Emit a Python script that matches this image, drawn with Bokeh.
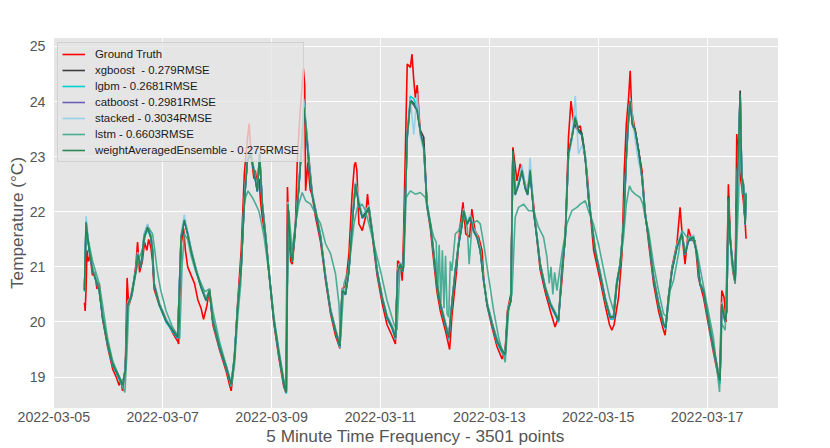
import pandas as pd
from bokeh.plotting import figure
from bokeh.models import Range1d, FixedTicker, DatetimeTickFormatter, Legend
from bokeh.embed import file_html
from bokeh.resources import INLINE

# ---------------- data (hours after 2022-03-05 00:00, temperature in degC) ----------------
base_day = "2022-03-05"
x_tick_labels = ["2022-03-05", "2022-03-07", "2022-03-09", "2022-03-11",
                 "2022-03-13", "2022-03-15", "2022-03-17"]
y_ticks = [19, 20, 21, 22, 23, 24, 25]

gt_hours = [
    13.5, 13.8, 14.2, 14.6, 15.2, 16.0, 17.0, 18.0, 19.0, 20.0,
    21.5, 23.7, 25.9, 27.5, 28.8, 29.5, 30.3, 31.5, 32.3, 33.0,
    34.5, 36.2, 36.9, 37.8, 39.0, 40.0, 41.0, 41.8, 42.8, 43.5,
    44.2, 46.5, 48.5, 50.0, 52.4, 54.6, 55.0, 56.1, 57.2, 58.0,
    59.0, 60.5, 62.0, 63.5, 64.9, 66.0, 67.5, 68.6, 69.5, 70.1,
    73.0, 76.0, 77.5, 78.2, 79.6, 81.1, 82.6, 84.0, 85.3, 86.1,
    86.8, 88.2, 88.8, 89.7, 90.5, 91.1, 91.9, 93.4, 94.8, 97.0,
    99.2, 101.4, 102.3, 103.0, 103.5, 104.4, 105.1, 106.4, 107.3, 108.4,
    109.5, 110.0, 110.6, 111.0, 112.0, 113.0, 113.9, 115.4, 117.6, 119.8,
    122.0, 124.2, 126.1, 127.1, 128.6, 130.1, 131.5, 132.5, 133.0, 133.6,
    134.5, 136.0, 137.4, 138.3, 139.2, 140.3, 142.5, 144.7, 146.9, 149.1,
    150.6, 151.6, 152.8, 153.6, 154.2, 155.8, 157.2, 157.9, 158.7, 159.4,
    160.2, 161.6, 163.1, 164.5, 166.0, 167.5, 168.9, 170.4, 172.6, 174.5,
    175.5, 177.5, 179.0, 180.4, 181.6, 183.3, 184.3, 185.7, 187.3, 188.8,
    189.5, 191.0, 193.2, 195.4, 197.6, 199.0, 200.0, 201.5, 202.4, 204.2,
    205.6, 207.1, 208.6, 210.0, 211.5, 213.0, 214.4, 216.6, 218.9, 221.0,
    222.5, 224.0, 225.5, 226.9, 228.0, 229.1, 230.6, 232.1, 233.5, 235.0,
    236.5, 238.0, 240.9, 243.1, 245.0, 246.0, 247.0, 249.0, 250.5, 251.5,
    252.4, 253.4, 254.1, 254.8, 256.3, 257.8, 259.3, 260.7, 262.2, 264.4,
    266.6, 268.8, 269.5, 270.5, 272.5, 274.7, 276.1, 277.3, 278.3, 279.8,
    281.3, 282.7, 284.2, 286.4, 288.6, 290.8, 293.0, 293.5, 294.5, 295.5,
    296.4, 297.4, 298.4, 299.6, 300.4, 301.1, 301.6, 302.3, 303.3, 304.0,
    304.8, 305.2,
]
ground_truth = [
    20.35, 20.20, 20.60, 21.30, 21.10, 21.20, 20.85, 20.90, 20.60, 20.70,
    20.05, 19.55, 19.15, 19.00, 18.85, 18.95, 18.75, 19.15, 20.80, 20.30,
    20.50, 21.05, 21.45, 20.90, 21.10, 21.45, 21.30, 21.50, 21.35, 21.10,
    20.60, 20.30, 20.15, 20.00, 19.80, 19.65, 19.60, 21.40, 21.70, 21.30,
    21.00, 20.85, 20.70, 20.40, 20.25, 20.05, 20.30, 20.60, 20.20, 19.95,
    19.50, 19.10, 18.85, 18.75, 19.30, 20.40, 21.30, 22.70, 23.30, 23.60,
    23.10, 22.60, 22.75, 22.50, 22.60, 22.20, 21.90, 21.50, 20.90, 19.98,
    19.35, 18.82, 18.72, 22.45, 21.80, 21.10, 21.05, 21.60, 22.90, 23.70,
    24.30, 24.60, 24.30, 22.38, 22.90, 22.40, 22.30, 21.90, 21.45, 20.75,
    20.15, 19.75, 19.52, 20.60, 20.65, 21.24, 22.32, 22.85, 22.90, 22.75,
    21.78, 21.66, 21.90, 22.32, 21.90, 21.60, 20.85, 20.35, 19.95, 19.75,
    19.60, 21.11, 21.05, 20.75, 21.60, 24.68, 24.62, 24.86, 24.38, 24.07,
    24.30, 23.40, 23.20, 22.10, 21.70, 21.10, 20.55, 20.20, 19.85, 19.50,
    20.10, 20.90, 21.70, 22.17, 21.60, 21.54, 22.05, 21.66, 21.54, 21.30,
    20.80, 20.30, 19.90, 19.55, 19.33, 19.50, 20.21, 20.51, 23.17, 22.56,
    22.87, 22.62, 22.38, 22.68, 22.14, 21.50, 20.95, 20.55, 20.20, 19.91,
    20.10, 20.75, 21.60, 23.35, 24.01, 23.65, 23.50, 23.56, 23.17, 22.75,
    22.00, 21.30, 20.75, 20.30, 19.95, 19.85, 19.95, 20.45, 21.24, 22.75,
    23.59, 24.07, 24.56, 23.83, 23.47, 23.11, 22.75, 22.00, 21.45, 20.70,
    20.20, 19.85, 19.76, 20.20, 20.99, 21.42, 22.08, 21.45, 21.05, 21.69,
    21.48, 21.48, 20.80, 20.45, 19.95, 19.45, 19.00, 18.94, 20.57, 20.45,
    20.00, 22.50, 21.40, 20.87, 20.70, 23.41, 23.05, 22.75, 22.45, 22.20,
    21.80, 21.51,
]

model_hours = [
    13.5, 14.2, 15.6, 17.1, 20.0, 21.5, 23.7, 25.9, 28.8, 30.3,
    31.5, 32.5, 34.0, 36.2, 36.9, 38.4, 39.8, 41.3, 42.8, 43.5,
    44.2, 46.5, 49.4, 52.4, 54.6, 56.1, 57.5, 59.0, 60.5, 62.7,
    64.9, 67.1, 68.6, 70.1, 73.0, 76.0, 78.2, 79.6, 81.1, 82.6,
    84.0, 85.3, 86.8, 88.2, 89.7, 90.7, 91.9, 93.4, 94.8, 97.0,
    99.2, 101.4, 102.5, 103.2, 104.4, 105.1, 106.6, 108.0, 109.5, 110.2,
    111.0, 112.4, 113.9, 115.4, 117.6, 119.8, 122.0, 124.2, 126.1, 127.1,
    128.6, 130.1, 131.5, 133.0, 134.5, 136.0, 137.4, 138.9, 140.3, 142.5,
    144.7, 146.9, 149.1, 150.6, 151.6, 152.8, 154.0, 154.7, 155.8, 157.2,
    158.7, 160.2, 161.6, 163.1, 164.5, 166.0, 167.5, 168.9, 170.4, 172.6,
    174.1, 175.5, 177.0, 178.5, 180.0, 180.7, 182.2, 183.6, 185.1, 186.6,
    188.0, 189.5, 191.0, 193.2, 195.4, 197.6, 199.0, 200.2, 201.5, 202.4,
    203.4, 204.9, 206.4, 207.8, 208.9, 210.0, 211.5, 213.0, 214.4, 216.6,
    218.9, 221.1, 222.5, 224.0, 225.5, 226.9, 228.4, 229.9, 231.3, 232.8,
    234.3, 235.7, 237.2, 238.7, 240.9, 243.1, 245.3, 246.8, 248.2, 249.7,
    251.2, 252.4, 253.4, 254.1, 255.1, 256.3, 257.8, 259.3, 260.7, 262.2,
    264.4, 266.6, 268.8, 269.8, 271.0, 272.5, 274.7, 276.9, 278.3, 279.8,
    282.0, 283.5, 284.9, 286.4, 288.6, 290.8, 293.0, 293.7, 294.5, 295.9,
    296.7, 297.4, 298.1, 299.3, 300.4, 301.4, 301.8, 302.6, 303.3, 304.0,
    304.8, 305.2,
]
xgboost = [
    20.60, 21.78, 21.32, 20.96, 20.60, 20.10, 19.62, 19.25, 19.01, 18.88,
    19.15, 20.30, 20.47, 20.96, 21.25, 21.02, 21.58, 21.76, 21.56, 21.32,
    20.70, 20.34, 20.05, 19.86, 19.75, 21.52, 21.86, 21.62, 21.32, 20.96,
    20.66, 20.42, 20.58, 20.05, 19.56, 19.20, 18.88, 19.35, 20.30, 21.02,
    22.22, 22.95, 23.08, 22.77, 22.40, 23.02, 22.16, 21.56, 20.95, 20.05,
    19.44, 18.90, 18.75, 22.10, 21.32, 21.13, 21.80, 22.46, 23.38, 23.95,
    23.65, 23.00, 22.34, 22.04, 21.56, 20.83, 20.23, 19.86, 19.59, 20.55,
    20.53, 20.95, 21.80, 22.52, 22.16, 21.92, 21.98, 22.10, 21.68, 20.95,
    20.47, 20.11, 19.93, 19.74, 20.90, 21.07, 20.95, 21.86, 23.38, 24.03,
    23.97, 23.85, 23.48, 23.35, 22.16, 21.80, 21.26, 20.71, 20.35, 19.99,
    19.74, 20.35, 20.95, 21.44, 21.80, 22.04, 21.80, 21.92, 21.68, 21.56,
    21.32, 20.77, 20.35, 19.99, 19.68, 19.50, 19.44, 20.23, 20.41, 23.13,
    22.34, 22.52, 22.77, 22.46, 22.34, 22.77, 22.04, 21.56, 21.07, 20.65,
    20.35, 20.17, 20.05, 20.95, 21.56, 23.07, 23.37, 23.73, 23.49, 23.43,
    23.01, 22.28, 21.80, 21.32, 20.89, 20.44, 20.11, 20.11, 20.71, 21.07,
    21.80, 23.01, 23.73, 24.03, 23.61, 23.49, 23.13, 22.65, 21.98, 21.56,
    20.83, 20.35, 19.99, 19.93, 20.47, 20.95, 21.38, 21.62, 21.26, 21.50,
    21.56, 21.26, 20.71, 20.59, 20.05, 19.56, 19.08, 18.96, 20.35, 20.05,
    20.23, 22.28, 21.56, 21.07, 20.77, 22.77, 23.07, 24.20, 22.65, 22.52,
    21.80, 22.34,
]
lgbm = [
    20.55, 21.84, 21.28, 20.92, 20.56, 20.07, 19.57, 19.21, 18.96, 18.82,
    19.10, 20.34, 20.43, 20.92, 21.21, 20.98, 21.52, 21.70, 21.52, 21.28,
    20.67, 20.30, 20.00, 19.82, 19.70, 21.56, 21.83, 21.58, 21.28, 20.92,
    20.62, 20.38, 20.55, 20.00, 19.52, 19.15, 18.83, 19.38, 20.34, 20.98,
    22.18, 22.91, 23.03, 22.73, 22.36, 23.07, 22.12, 21.52, 20.91, 20.00,
    19.39, 18.85, 18.70, 22.16, 21.28, 21.09, 21.76, 22.42, 23.33, 23.92,
    23.62, 22.85, 22.30, 22.00, 21.52, 20.79, 20.18, 19.82, 19.53, 20.59,
    20.49, 20.91, 21.76, 22.48, 22.12, 21.88, 21.94, 22.06, 21.64, 20.91,
    20.43, 20.06, 19.88, 19.68, 20.95, 21.03, 20.91, 21.82, 23.40, 24.10,
    24.05, 23.90, 23.43, 23.15, 22.12, 21.76, 21.22, 20.67, 20.30, 19.94,
    19.68, 20.31, 20.91, 21.40, 21.76, 22.00, 21.76, 21.88, 21.64, 21.52,
    21.28, 20.73, 20.30, 19.94, 19.62, 19.44, 19.38, 20.19, 20.37, 23.09,
    22.30, 22.48, 22.73, 22.42, 22.30, 22.73, 22.00, 21.52, 21.03, 20.61,
    20.30, 20.12, 19.99, 20.91, 21.52, 23.03, 23.33, 23.75, 23.45, 23.39,
    22.97, 22.24, 21.76, 21.28, 20.85, 20.39, 20.05, 20.05, 20.67, 21.03,
    21.76, 22.97, 23.69, 24.05, 23.57, 23.45, 23.09, 22.61, 21.94, 21.52,
    20.79, 20.30, 19.94, 19.87, 20.43, 20.91, 21.34, 21.58, 21.22, 21.46,
    21.52, 21.22, 20.67, 20.55, 20.00, 19.50, 19.02, 18.88, 20.31, 19.99,
    20.19, 22.24, 21.52, 21.03, 20.73, 22.73, 23.03, 24.10, 22.61, 22.48,
    21.76, 22.30,
]
catboost = [
    20.58, 21.80, 21.31, 20.95, 20.57, 20.08, 19.59, 19.23, 18.99, 18.85,
    19.12, 20.31, 20.44, 20.93, 21.22, 20.99, 21.53, 21.71, 21.53, 21.29,
    20.68, 20.31, 20.02, 19.84, 19.72, 21.53, 21.84, 21.59, 21.29, 20.93,
    20.63, 20.39, 20.56, 20.02, 19.54, 19.17, 18.86, 19.35, 20.31, 20.99,
    22.19, 22.92, 23.04, 22.74, 22.37, 23.04, 22.13, 21.53, 20.92, 20.02,
    19.41, 18.87, 18.72, 22.12, 21.29, 21.10, 21.77, 22.43, 23.34, 23.88,
    23.58, 22.90, 22.31, 22.01, 21.53, 20.80, 20.20, 19.84, 19.56, 20.54,
    20.50, 20.92, 21.77, 22.49, 22.13, 21.89, 21.95, 22.07, 21.65, 20.92,
    20.44, 20.08, 19.90, 19.71, 20.92, 21.04, 20.92, 21.83, 23.34, 24.00,
    23.94, 23.82, 23.44, 23.16, 22.13, 21.77, 21.23, 20.68, 20.32, 19.96,
    19.71, 20.32, 20.92, 21.41, 21.77, 22.01, 21.77, 21.89, 21.65, 21.53,
    21.29, 20.74, 20.32, 19.96, 19.65, 19.47, 19.41, 20.20, 20.38, 23.08,
    22.31, 22.49, 22.74, 22.43, 22.31, 22.74, 22.01, 21.53, 21.04, 20.62,
    20.32, 20.14, 20.02, 20.92, 21.53, 23.04, 23.34, 23.70, 23.46, 23.40,
    22.98, 22.25, 21.77, 21.29, 20.86, 20.41, 20.08, 20.08, 20.68, 21.04,
    21.77, 22.98, 23.70, 24.00, 23.58, 23.46, 23.10, 22.62, 21.95, 21.53,
    20.80, 20.32, 19.96, 19.90, 20.44, 20.92, 21.35, 21.59, 21.23, 21.47,
    21.53, 21.23, 20.68, 20.56, 20.02, 19.53, 19.05, 18.93, 20.32, 20.02,
    20.20, 22.25, 21.53, 21.04, 20.74, 22.74, 23.04, 24.12, 22.62, 22.49,
    21.77, 22.31,
]
stacked = [
    20.62, 21.92, 21.35, 20.98, 20.60, 20.12, 19.62, 19.26, 19.02, 18.88,
    19.15, 20.35, 20.48, 20.97, 21.27, 21.03, 21.60, 21.78, 21.58, 21.33,
    20.72, 20.35, 20.06, 19.88, 19.76, 21.60, 21.95, 21.64, 21.33, 20.97,
    20.67, 20.43, 20.60, 20.06, 19.58, 19.21, 18.90, 19.39, 20.35, 21.03,
    22.25, 23.00, 23.12, 22.80, 22.42, 23.10, 22.18, 21.58, 20.96, 20.06,
    19.45, 18.91, 18.76, 22.18, 21.34, 21.14, 21.82, 22.50, 23.45, 24.05,
    23.70, 22.92, 22.36, 22.06, 21.58, 20.84, 20.24, 19.88, 19.60, 20.60,
    20.55, 20.97, 21.82, 22.55, 22.25, 21.95, 22.02, 22.12, 21.70, 20.96,
    20.48, 20.12, 19.94, 19.75, 20.96, 21.08, 20.96, 21.88, 23.30, 24.05,
    23.40, 24.15, 23.35, 23.10, 22.18, 21.82, 21.28, 20.72, 20.36, 20.00,
    19.75, 20.36, 20.96, 21.45, 21.82, 22.06, 21.82, 21.95, 21.70, 21.58,
    21.34, 20.78, 20.36, 20.00, 19.69, 19.51, 19.45, 20.24, 20.42, 23.05,
    22.36, 22.55, 22.85, 22.50, 22.40, 22.98, 22.06, 21.58, 21.08, 20.66,
    20.36, 20.18, 20.06, 20.96, 21.58, 23.00, 23.30, 24.10, 23.05, 23.20,
    23.05, 22.30, 21.82, 21.34, 20.90, 20.45, 20.12, 20.12, 20.72, 21.08,
    21.82, 22.95, 23.75, 24.05, 23.75, 23.30, 22.90, 22.65, 22.00, 21.58,
    20.84, 20.36, 20.00, 19.94, 20.48, 20.96, 21.40, 21.64, 21.28, 21.52,
    21.58, 21.28, 20.72, 20.60, 20.06, 19.57, 19.09, 18.97, 20.36, 20.06,
    20.24, 22.20, 21.58, 21.08, 20.78, 22.70, 23.00, 24.05, 22.66, 22.53,
    21.82, 22.36,
]
weight_avg_ensemble = [
    20.57, 21.81, 21.30, 20.94, 20.58, 20.09, 19.60, 19.24, 19.00, 18.86,
    19.13, 20.32, 20.45, 20.94, 21.23, 21.00, 21.54, 21.72, 21.54, 21.30,
    20.69, 20.32, 20.03, 19.85, 19.73, 21.54, 21.85, 21.60, 21.30, 20.94,
    20.64, 20.40, 20.57, 20.03, 19.55, 19.18, 18.87, 19.36, 20.32, 21.00,
    22.20, 22.93, 23.05, 22.75, 22.38, 23.05, 22.14, 21.54, 20.93, 20.03,
    19.42, 18.88, 18.73, 22.14, 21.30, 21.11, 21.78, 22.44, 23.35, 23.90,
    23.60, 22.87, 22.32, 22.02, 21.54, 20.81, 20.21, 19.85, 19.57, 20.57,
    20.51, 20.93, 21.78, 22.50, 22.14, 21.90, 21.96, 22.08, 21.66, 20.93,
    20.45, 20.09, 19.91, 19.72, 20.93, 21.05, 20.93, 21.84, 23.35, 24.01,
    23.95, 23.83, 23.45, 23.17, 22.14, 21.78, 21.24, 20.69, 20.33, 19.97,
    19.72, 20.33, 20.93, 21.42, 21.78, 22.02, 21.78, 21.90, 21.66, 21.54,
    21.30, 20.75, 20.33, 19.97, 19.66, 19.48, 19.42, 20.21, 20.39, 23.11,
    22.32, 22.50, 22.75, 22.44, 22.32, 22.75, 22.02, 21.54, 21.05, 20.63,
    20.33, 20.15, 20.03, 20.93, 21.54, 23.05, 23.35, 23.71, 23.47, 23.41,
    22.99, 22.26, 21.78, 21.30, 20.87, 20.42, 20.09, 20.09, 20.69, 21.05,
    21.78, 22.99, 23.71, 24.01, 23.59, 23.47, 23.11, 22.63, 21.96, 21.54,
    20.81, 20.33, 19.97, 19.91, 20.45, 20.93, 21.36, 21.60, 21.24, 21.48,
    21.54, 21.24, 20.69, 20.57, 20.03, 19.54, 19.06, 18.94, 20.33, 20.03,
    20.21, 22.26, 21.54, 21.05, 20.75, 22.75, 23.05, 24.14, 22.63, 22.50,
    21.78, 22.32,
]

lstm_hours = [
    13.5, 14.2, 15.6, 17.1, 20.0, 21.5, 23.7, 25.9, 28.8, 30.5,
    31.3, 32.3, 33.0, 34.5, 36.2, 37.5, 39.0, 40.5, 42.0, 43.5,
    44.5, 45.5, 47.0, 49.5, 52.4, 54.6, 55.5, 56.5, 57.5, 59.0,
    60.5, 62.7, 64.9, 66.5, 68.6, 70.1, 73.0, 76.0, 78.2, 79.6,
    81.1, 82.4, 83.6, 84.5, 85.6, 87.5, 89.0, 90.5, 91.5, 92.7,
    94.8, 97.0, 99.2, 101.4, 102.2, 103.6, 105.0, 106.6, 108.0, 109.5,
    111.0, 113.2, 115.4, 117.6, 119.8, 122.0, 124.2, 125.7, 126.4, 127.9,
    130.1, 132.3, 133.8, 135.9, 137.4, 138.9, 141.1, 144.0, 146.9, 149.9,
    151.3, 152.5, 154.3, 155.3, 157.2, 159.4, 161.6, 163.8, 165.3, 167.5,
    168.6, 169.2, 169.9, 170.6, 171.3, 172.0, 172.7, 173.4, 174.1, 174.8,
    175.5, 177.0, 178.5, 180.7, 182.3, 183.1, 184.4, 186.6, 188.0, 189.5,
    191.7, 193.9, 196.1, 199.0, 200.5, 202.0, 203.4, 204.9, 207.1, 209.3,
    211.5, 213.7, 215.9, 217.4, 218.4, 219.2, 220.0, 220.8, 221.8, 224.0,
    226.2, 228.4, 230.6, 232.1, 234.3, 235.7, 237.9, 240.1, 243.1, 245.0,
    246.8, 248.2, 249.7, 251.2, 252.4, 253.8, 254.8, 256.3, 258.5, 259.7,
    260.7, 262.2, 264.4, 266.6, 268.8, 270.3, 271.7, 273.2, 275.4, 276.9,
    279.1, 281.3, 283.5, 285.7, 287.9, 290.8, 293.5, 294.5, 296.0, 297.4,
    298.9, 300.4, 301.8, 302.6, 303.6, 305.0,
]
lstm = [
    20.65, 21.60, 21.40, 21.10, 20.70, 20.30, 19.70, 19.30, 19.00, 18.80,
    18.72, 19.50, 20.30, 20.50, 20.90, 21.15, 21.30, 21.60, 21.70, 21.60,
    21.30, 20.95, 20.60, 20.20, 19.90, 19.75, 19.70, 21.00, 21.60, 21.50,
    21.20, 20.90, 20.70, 20.55, 20.60, 20.20, 19.65, 19.20, 18.85, 19.20,
    20.10, 20.69, 22.00, 22.26, 22.38, 22.26, 22.14, 22.00, 21.80, 21.54,
    20.90, 20.10, 19.50, 18.95, 18.73, 22.02, 21.30, 21.78, 22.14, 22.35,
    22.20, 22.14, 21.96, 21.78, 21.42, 21.24, 20.87, 20.33, 19.66, 20.69,
    20.99, 21.78, 22.08, 22.14, 22.02, 21.78, 21.42, 20.93, 20.39, 19.97,
    19.85, 20.93, 20.99, 22.26, 22.38, 22.32, 22.35, 22.26, 21.90, 21.54,
    21.45, 20.50, 21.40, 20.35, 21.30, 20.25, 21.20, 20.15, 20.09, 21.10,
    20.93, 21.60, 21.66, 21.96, 21.70, 21.05, 21.78, 21.84, 21.78, 21.42,
    20.81, 20.21, 19.72, 19.27, 20.21, 20.51, 21.90, 22.08, 22.14, 22.02,
    22.02, 21.72, 21.54, 21.18, 20.70, 21.00, 20.50, 20.90, 20.57, 21.24,
    21.78, 22.02, 22.08, 22.14, 22.20, 22.02, 21.78, 21.42, 20.81, 20.45,
    20.21, 20.75, 21.05, 21.54, 22.14, 22.47, 22.38, 22.32, 22.26, 22.14,
    21.90, 21.66, 21.05, 20.57, 20.15, 20.09, 20.57, 20.75, 21.24, 21.66,
    21.54, 21.54, 21.30, 20.81, 20.33, 19.72, 18.73, 19.97, 19.85, 22.14,
    21.05, 20.69, 22.14, 23.35, 22.32, 22.32,
]

# ---------------- figure ----------------
start = pd.Timestamp(base_day)


def to_time(hours):
    return (start + pd.to_timedelta(hours, unit="h")).to_numpy()


t_gt = to_time(gt_hours)
t_model = to_time(model_hours)
t_lstm = to_time(lstm_hours)

FONT = "Liberation Sans"

p = figure(
    width=830, height=448,
    x_axis_type="datetime",
    x_range=Range1d(start + pd.Timedelta(hours=-0.6), start + pd.Timedelta(hours=319.5)),
    y_range=Range1d(18.43, 25.163),
    output_backend="svg", toolbar_location=None,
    min_border_left=52, min_border_top=37, min_border_right=52, min_border_bottom=10,
)
p.background_fill_color = "#E5E5E5"
p.border_fill_color = "white"
p.outline_line_color = "white"

series = [
    (t_gt, ground_truth, "Ground Truth", "#FF0000", 1.0),
    (t_model, xgboost, "xgboost  - 0.279RMSE", "#2B2B2B", 0.9),
    (t_model, lgbm, "lgbm - 0.2681RMSE", "#00CED1", 1.0),
    (t_model, catboost, "catboost - 0.2981RMSE", "#5A4FB0", 0.9),
    (t_model, stacked, "stacked - 0.3034RMSE", "#87CEEB", 0.85),
    (t_lstm, lstm, "lstm - 0.6603RMSE", "#3AA68C", 0.9),
    (t_model, weight_avg_ensemble, "weightAveragedEnsemble - 0.275RMSE", "#23844F", 0.95),
]
items = []
for xs, ys, label, color, alpha in series:
    r = p.line(xs, ys, line_color=color, line_width=1.6, line_alpha=alpha)
    items.append((label, [r]))

legend = Legend(items=items, location="top_left")
legend.label_text_font = FONT
legend.label_text_font_size = "11.4px"
legend.label_text_color = "#1a1a1a"
legend.glyph_width = 23
legend.glyph_height = 14
legend.label_height = 14
legend.label_standoff = 10
legend.spacing = 2
legend.padding = 4
legend.margin = 5
legend.background_fill_color = "#E5E5E5"
legend.background_fill_alpha = 0.8
legend.border_line_color = "#CCCCCC"
legend.border_line_alpha = 0.8
p.add_layout(legend)

# axes
p.xaxis.ticker = FixedTicker(ticks=[pd.Timestamp(s).value / 1e6 for s in x_tick_labels])
p.xaxis.formatter = DatetimeTickFormatter(days="%Y-%m-%d", months="%Y-%m-%d", hours="%Y-%m-%d")
p.yaxis.ticker = FixedTicker(ticks=y_ticks)

p.xaxis.axis_label = "5 Minute Time Frequency - 3501 points"
p.yaxis.axis_label = "Temperature (°C)"
for ax in (p.xaxis, p.yaxis):
    ax.axis_line_color = None
    ax.major_tick_line_color = None
    ax.minor_tick_line_color = None
    ax.major_tick_out = 0
    ax.major_tick_in = 0
    ax.minor_tick_out = 0
    ax.minor_tick_in = 0
    ax.major_label_text_font = FONT
    ax.major_label_text_font_size = "14.2px"
    ax.major_label_text_color = "#555555"
    ax.axis_label_text_font = FONT
    ax.axis_label_text_font_size = "17.2px"
    ax.axis_label_text_font_style = "normal"
    ax.axis_label_text_color = "#555555"
p.xaxis.major_label_standoff = 3
p.xaxis.axis_label_standoff = 1
p.yaxis.major_label_standoff = 7
p.yaxis.axis_label_standoff = 0

p.xgrid.grid_line_color = "white"
p.ygrid.grid_line_color = "white"
p.xgrid.grid_line_width = 1
p.ygrid.grid_line_width = 1

open("out.html", "w").write(file_html(p, INLINE))
